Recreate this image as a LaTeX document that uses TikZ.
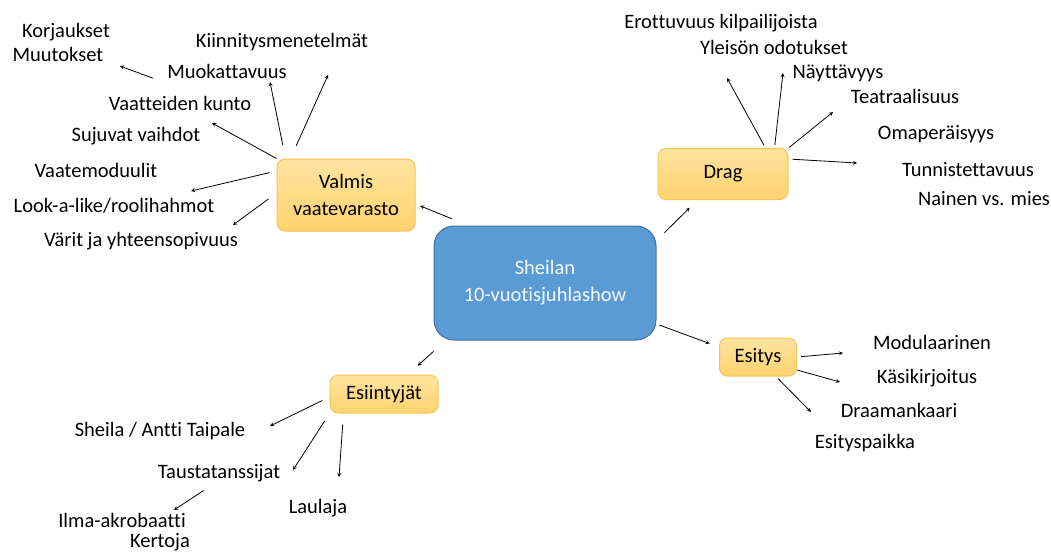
\documentclass[tikz,border=0pt]{standalone}
\usepackage{fontspec}
\setmainfont[Ligatures=NoCommon]{Carlito}
\definecolor{hubfill}{HTML}{5B9BD5}
\definecolor{hubedge}{HTML}{41719C}
\definecolor{topictop}{HTML}{FFE4A0}
\definecolor{topicbot}{HTML}{FFD26E}
\definecolor{topicedge}{HTML}{F5C45A}
\begin{document}
\begin{tikzpicture}[x=1pt, y=-1pt, >=stealth, line width=0.8pt,
    every node/.style={font=\fontsize{20.5}{27}\selectfont},
    hub/.style={draw=hubedge, fill=hubfill, text=white!94!hubfill, rounded corners=20pt, align=center,
        minimum width=222pt, minimum height=114pt, line width=1pt},
    topic/.style={draw=topicedge, top color=topictop, bottom color=topicbot, rounded corners=8pt, align=center,
        line width=1pt},
    leaf/.style={inner sep=0pt, text height=12pt, text depth=0pt}]
  \useasboundingbox (0,0) rectangle (1051,552);
  % Main node and topics
  \node[hub] (show) at (545,283) {Sheilan\\10-vuotisjuhlashow};
  \node[topic, minimum width=138pt, minimum height=72pt] (valmis) at (346,195) {Valmis\\vaatevarasto};
  \node[topic, minimum width=130pt, minimum height=51pt] (drag) at (723,174) {Drag};
  \node[topic, minimum width=77pt, minimum height=38pt] (esitys) at (758,357) {Esitys};
  \node[topic, minimum width=108pt, minimum height=38pt] (esiint) at (384,394) {Esiintyjät};
  % Valmis vaatevarasto
  \node[leaf] (korj) at (66,31) {Korjaukset};
  \node[leaf] (muut) at (58,55) {Muutokset};
  \node[leaf] (kiin) at (282,41) {Kiinnitysmenetelmät};
  \node[leaf] (muok) at (227,72) {Muokattavuus};
  \node[leaf] (vkun) at (180,104) {Vaatteiden kunto};
  \node[leaf] (suju) at (136,135) {Sujuvat vaihdot};
  \node[leaf] (vmod) at (96,171) {Vaatemoduulit};
  \node[leaf] (look) at (114,206) {Look-a-like/roolihahmot};
  \node[leaf] (vari) at (141,240) {Värit ja yhteensopivuus};
  % Drag
  \node[leaf] (erot) at (721,22) {Erottuvuus kilpailijoista};
  \node[leaf] (ylei) at (774,48) {Yleisön odotukset};
  \node[leaf] (nayt) at (838,72) {Näyttävyys};
  \node[leaf] (teat) at (905,97) {Teatraalisuus};
  \node[leaf] (omap) at (936,133) {Omaperäisyys};
  \node[leaf] (tunn) at (968,170) {Tunnistettavuus};
  \node[leaf] (nain) at (984,199) {Nainen vs. mies};
  % Esitys
  \node[leaf] (modu) at (932,343) {Modulaarinen};
  \node[leaf] (kasi) at (927,377) {Käsikirjoitus};
  \node[leaf] (draa) at (899,411) {Draamankaari};
  \node[leaf] (espa) at (865,442) {Esityspaikka};
  % Esiintyjät
  \node[leaf] (shei) at (160,430) {Sheila / Antti Taipale};
  \node[leaf] (taus) at (219,472) {Taustatanssijat};
  \node[leaf] (laul) at (318,507) {Laulaja};
  \node[leaf] (ilma) at (122,521) {Ilma-akrobaatti};
  \node[leaf] (kert) at (160,541) {Kertoja};
  % Arrow heads
  \coordinate (h-vkun) at (212,123);
  \coordinate (h-muok) at (270,82);
  \coordinate (h-kiin) at (328,75);
  \coordinate (h-vmod) at (191,191);
  \coordinate (h-vari) at (233,225);
  \coordinate (h-muut) at (120,66);
  \coordinate (h-erot) at (727,78);
  \coordinate (h-ylei) at (783,73);
  \coordinate (h-teat) at (833,112);
  \coordinate (h-tunn) at (857,163);
  \coordinate (h-modu) at (843,353);
  \coordinate (h-kasi) at (840,382);
  \coordinate (h-draa) at (811,412);
  \coordinate (h-shei) at (270,426);
  \coordinate (h-taus) at (293,470);
  \coordinate (h-laul) at (339,477);
  \coordinate (h-ilma) at (174,510);
  % From the main node
  \draw[->, shorten <=18pt, shorten >=5pt] ([xshift=35pt]show.north west) -- ([yshift=-9pt]valmis.east);
  \draw[->, shorten <=11pt, shorten >=11pt] ([yshift=-15pt]show.north east) -- ([xshift=40pt]drag.south west);
  \draw[->, shorten <=16pt, shorten >=13pt] ([xshift=12pt]show.south west) -- ([xshift=24pt]esiint.north);
  \draw[->, shorten <=3pt, shorten >=10pt] ([yshift=-41pt]show.east) -- ([yshift=10pt]esitys.west);
  % Valmis vaatevarasto
  \draw[->] (valmis.north west) -- (h-vkun);
  \draw[->, shorten <=14pt] ([xshift=9pt]valmis.north west) -- (h-muok);
  \draw[->, shorten <=14pt] ([xshift=14pt]valmis.north west) -- (h-kiin);
  \draw[->, shorten <=7pt] ([yshift=24pt]valmis.west) -- (h-vmod);
  \draw[->, shorten <=10pt] ([yshift=2pt]valmis.west) -- (h-vari);
  \draw[->, shorten <=15pt] ([yshift=-5pt]muok.south west) -- (h-muut);
  % Drag
  \draw[->, shorten <=3pt] ([xshift=108pt]drag.north west) -- (h-erot);
  \draw[->, shorten <=3pt] ([xshift=117pt]drag.north west) -- (h-ylei);
  \draw[->, shorten <=1pt] (drag.north east) -- (h-teat);
  \draw[->, shorten <=4pt] ([yshift=15pt]drag.east) -- (h-tunn);
  % Esitys
  \draw[->, shorten <=4pt] (esitys.east) -- (h-modu);
  \draw[->] ([yshift=-13pt]esitys.east) -- (h-kasi);
  \draw[->, shorten <=3pt] ([xshift=18pt]esitys.south) -- (h-draa);
  % Esiintyjat
  \draw[->, shorten <=8pt] ([yshift=-3pt]esiint.west) -- (h-shei);
  \draw[->, shorten <=9pt] (esiint.south west) -- (h-taus);
  \draw[->, shorten <=11pt] ([xshift=14pt]esiint.south west) -- (h-laul);
  \draw[->, shorten <=22pt] ([xshift=3pt]taus.south) -- (h-ilma);
\end{tikzpicture}
\end{document}
